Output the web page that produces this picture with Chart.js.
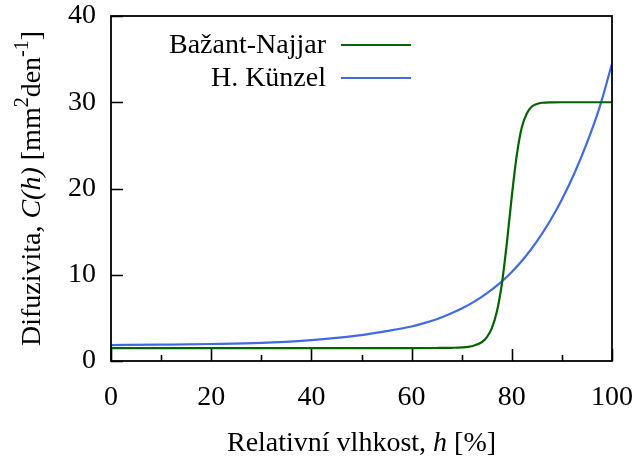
<!DOCTYPE html>
<html>
<head>
<meta charset="utf-8">
<script src="https://cdn.jsdelivr.net/npm/chart.js@4.4.1/dist/chart.umd.min.js"></script>
<style>
  html, body { margin: 0; padding: 0; background: #fff; }
  #wrap { width: 638px; height: 457px; }
</style>
</head>
<body>
<div id="wrap"><canvas id="c" width="638" height="457"></canvas></div>
<script>
// values
const hBazant = [0, 20, 40, 60, 65, 68, 70, 72, 74, 75, 76, 77, 78, 79, 80, 81, 82, 83, 84, 85, 86, 88, 90, 100];
const cBazant = [1.5, 1.5, 1.5, 1.5, 1.51, 1.53, 1.57, 1.71, 2.17, 2.73, 3.78, 5.67, 8.87, 13.6, 19.1, 23.9, 27.1, 28.7, 29.5, 29.8, 29.94, 29.99, 30, 30];

const hKunzel = [0, 10, 20, 30, 40, 45, 50, 55, 60, 62.5, 65, 67.5, 70, 72.5, 75, 77.5, 80, 82.5, 85, 87.5, 90, 92.5, 95, 97.5, 100];
const cKunzel = [1.85, 1.9, 1.97, 2.1, 2.43, 2.68, 3.0, 3.46, 4.0, 4.39, 4.85, 5.42, 6.08, 6.89, 7.85, 8.98, 10.33, 11.94, 13.87, 16.12, 18.73, 21.76, 25.28, 29.37, 34.47];

const seriesNames = ['Bažant-Najjar', 'H. Künzel'];
const seriesColors = ['#006400', '#4169e1'];

const xTicks = [0, 20, 40, 60, 80, 100];
const xMinorTicks = [10, 30, 50, 70, 90];
const yTicks = [0, 10, 20, 30, 40];

const FONT = '"Liberation Serif", "Times New Roman", serif';
const FS = 28;

const toPoints = (xs, ys) => xs.map((x, i) => ({ x: x, y: ys[i] }));

// draws text made of pieces (normal / italic / superscript)
function drawRich(ctx, segs, x, y, size, align) {
    const fontOf = s => (s.it ? 'italic ' : '') + (s.sup ? Math.round(size * 0.7) : size) + 'px ' + FONT;
    let total = 0;
    segs.forEach(s => { ctx.font = fontOf(s); s.w = ctx.measureText(s.t).width; total += s.w; });
    let cx = align === 'center' ? x - total / 2 : (align === 'right' ? x - total : x);
    ctx.textAlign = 'left';
    ctx.textBaseline = 'alphabetic';
    segs.forEach(s => {
        ctx.font = fontOf(s);
        ctx.fillText(s.t, cx, s.sup ? y - size * 0.42 : y);
        cx += s.w;
    });
}

const framePlugin = {
    id: 'frame',
    afterDraw(chart) {
        const { ctx, chartArea: a, scales } = chart;
        ctx.save();
        ctx.strokeStyle = '#000';
        ctx.lineWidth = 1.6;
        // ticks, drawn inward
        ctx.beginPath();
        xTicks.forEach(v => {
            const px = Math.round(scales.x.getPixelForValue(v)) + 0.5;
            ctx.moveTo(px, a.bottom); ctx.lineTo(px, a.bottom - 12);
        });
        xMinorTicks.forEach(v => {
            const px = Math.round(scales.x.getPixelForValue(v)) + 0.5;
            ctx.moveTo(px, a.bottom); ctx.lineTo(px, a.bottom - 6);
        });
        yTicks.forEach(v => {
            const py = Math.round(scales.y.getPixelForValue(v)) + 0.5;
            ctx.moveTo(a.left, py); ctx.lineTo(a.left + 12, py);
        });
        ctx.stroke();
        // border box
        ctx.lineWidth = 1.8;
        ctx.strokeRect(a.left, a.top, a.right - a.left, a.bottom - a.top);

        // legend: text right-aligned, sample line to its right
        ctx.fillStyle = '#000';
        const legY = [45, 78];
        seriesNames.forEach((name, i) => {
            ctx.font = FS + 'px ' + FONT;
            ctx.textAlign = 'right';
            ctx.textBaseline = 'middle';
            ctx.fillText(name, 326, legY[i] + 1);
            ctx.strokeStyle = seriesColors[i];
            ctx.lineWidth = 2.2;
            ctx.beginPath();
            ctx.moveTo(341, legY[i]); ctx.lineTo(411, legY[i]);
            ctx.stroke();
        });

        // axis titles
        ctx.fillStyle = '#000';
        drawRich(ctx, [{ t: 'Relativní vlhkost, ' }, { t: 'h', it: true }, { t: ' [%]' }],
            (a.left + a.right) / 2, 451, FS, 'center');
        ctx.translate(40, (a.top + a.bottom) / 2);
        ctx.rotate(-Math.PI / 2);
        drawRich(ctx, [{ t: 'Difuzivita, ' }, { t: 'C(h)', it: true }, { t: ' [mm' }, { t: '2', sup: true },
            { t: 'den' }, { t: '-1', sup: true }, { t: ']' }], 0, 0, FS, 'center');
        ctx.restore();
    }
};

const noOverflow = s => { s.paddingTop = 0; s.paddingBottom = 0; s.paddingLeft = 0; s.paddingRight = 0; };

new Chart(document.getElementById('c'), {
    type: 'line',
    data: {
        datasets: [
            { label: seriesNames[0], data: toPoints(hBazant, cBazant), borderColor: seriesColors[0] },
            { label: seriesNames[1], data: toPoints(hKunzel, cKunzel), borderColor: seriesColors[1] }
        ]
    },
    options: {
        responsive: false,
        animation: false,
        layout: { padding: { left: 0, top: 16, right: 26, bottom: 0 } },
        elements: {
            point: { radius: 0 },
            line: { borderWidth: 2.2, cubicInterpolationMode: 'monotone', fill: false }
        },
        plugins: { legend: { display: false }, tooltip: { enabled: false } },
        scales: {
            x: {
                type: 'linear', min: 0, max: 100,
                afterFit: s => { s.height = 96; noOverflow(s); },
                afterBuildTicks: s => { s.ticks = xTicks.map(v => ({ value: v })); },
                grid: { display: false, drawTicks: false },
                border: { display: false },
                ticks: { color: '#000', padding: 20, maxRotation: 0, font: { family: FONT, size: FS } }
            },
            y: {
                type: 'linear', min: 0, max: 40,
                afterFit: s => { s.width = 111; noOverflow(s); },
                afterBuildTicks: s => { s.ticks = yTicks.map(v => ({ value: v })); },
                grid: { display: false, drawTicks: false },
                border: { display: false },
                ticks: { color: '#000', padding: 15, font: { family: FONT, size: FS } }
            }
        }
    },
    plugins: [framePlugin]
});
</script>
</body>
</html>
